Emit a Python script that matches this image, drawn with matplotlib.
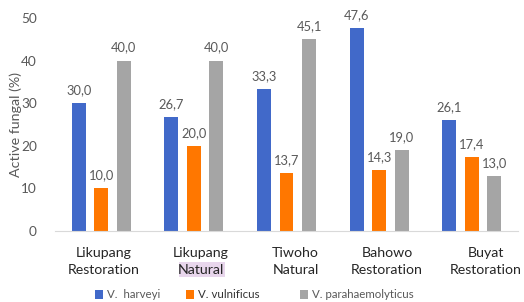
import matplotlib
matplotlib.use("Agg")
import matplotlib.pyplot as plt
import matplotlib.transforms as mtransforms
from matplotlib.patches import Rectangle
import numpy as np

categories = ["Likupang\nRestoration", "Likupang\nNatural", "Tiwoho\nNatural", "Bahowo\nRestoration", "Buyat\nRestoration"]
series_names = ["V.  harveyi", "V. vulnificus", "V. parahaemolyticus"]
harveyi = [30.0, 26.7, 33.3, 47.6, 26.1]
vulnificus = [10.0, 20.0, 13.7, 14.3, 17.4]
parahaemolyticus = [40.0, 40.0, 45.1, 19.0, 13.0]
yticks = [0, 10, 20, 30, 40, 50]

colors = ["#4169C9", "#FF7700", "#A5A5A5"]
txt = "#595959"
plt.rcParams['font.family'] = ['Lato', 'DejaVu Sans']

fig = plt.figure(figsize=(5.24, 3.02), dpi=100)
ax = fig.add_axes([55/524, 1-231/302, (518-55)/524, (231-18)/302])

x = np.arange(len(categories))
w = 0.15
off = 0.243
handles = []
for i, (vals, c, name) in enumerate(zip([harveyi, vulnificus, parahaemolyticus], colors, series_names)):
    bars = ax.bar(x + (i-1)*off, vals, width=w, color=c, label=name)
    handles.append(bars)
    for xi, v in zip(x + (i-1)*off, vals):
        ax.annotate(f"{v:.1f}".replace(".", ","), (xi, v), xytext=(0, 5), textcoords="offset points",
                    ha="center", va="bottom", fontsize=9.3, color=txt)

ax.set_xlim(-0.5, len(categories)-0.5)
ax.set_ylim(0, 50)
ax.set_yticks(yticks)
ax.set_yticklabels([str(t) for t in yticks], fontsize=9.8, color=txt)
ax.set_xticks(x)
ax.set_xticklabels(categories, fontsize=10.2, color="#262626", linespacing=1.5)
ax.tick_params(axis='both', length=0)
ax.tick_params(axis='x', pad=11.5)
ax.tick_params(axis='y', pad=13)
for s in ["top", "right", "left"]:
    ax.spines[s].set_visible(False)
ax.spines["bottom"].set_color("#D9D9D9")
ax.set_ylabel("Active fungal (%)", fontsize=10.3, color=txt)
ax.yaxis.set_label_coords((22-55)/463, 0.5)

# small horizontal shifts of category labels as in the reference
shifts_px = [2, 7, 9, 8, 14]
for lab, dx in zip(ax.get_xticklabels(), shifts_px):
    lab.set_transform(lab.get_transform() + mtransforms.ScaledTranslation(dx/100, 0, fig.dpi_scale_trans))

# highlight behind "Natural" in second category
trans = mtransforms.blended_transform_factory(ax.transData, ax.transAxes)
ax.add_patch(Rectangle((0.842, -0.216), 0.497, 0.072, transform=trans, facecolor="#E8D6EC",
                       edgecolor="none", clip_on=False, zorder=0))

leg_x = [95, 186, 300]
leg_colors = [txt, "#333333", txt]
for h, name, lx, tc in zip(handles, series_names, leg_x, leg_colors):
    leg = fig.legend([h], [name], loc="center left", bbox_to_anchor=(lx/524, 1-295/302),
                     frameon=False, fontsize=8.3, handlelength=0.7, handleheight=0.7,
                     handletextpad=0.3, borderpad=0, borderaxespad=0)
    for t in leg.get_texts():
        t.set_color(tc)

fig.savefig("out.png", dpi=100)
